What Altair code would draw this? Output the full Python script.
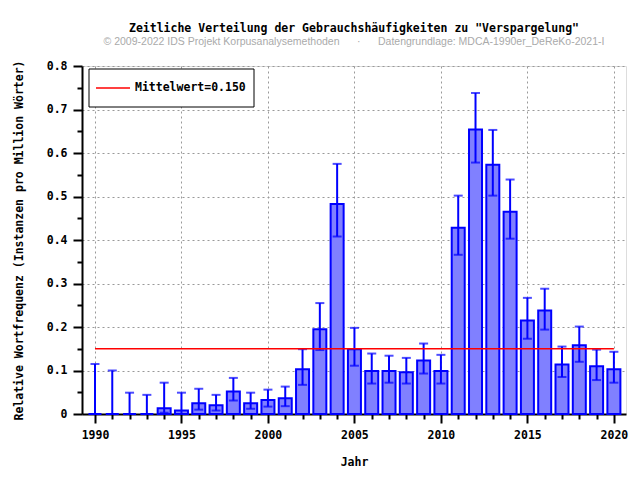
import altair as alt
import pandas as pd

years = [1990, 1991, 1992, 1993, 1994, 1995, 1996, 1997, 1998, 1999,
         2000, 2001, 2002, 2003, 2004, 2005, 2006, 2007, 2008, 2009,
         2010, 2011, 2012, 2013, 2014, 2015, 2016, 2017, 2018, 2019, 2020]
freq = [0.0, 0.0, 0.0, 0.0, 0.013, 0.008, 0.025, 0.020, 0.052, 0.025,
        0.032, 0.036, 0.103, 0.195, 0.483, 0.149, 0.099, 0.099, 0.096, 0.123,
        0.099, 0.428, 0.654, 0.573, 0.465, 0.215, 0.238, 0.114, 0.158, 0.110, 0.103]
err_hi = [0.115, 0.100, 0.049, 0.044, 0.072, 0.049, 0.058, 0.044, 0.083, 0.049,
          0.056, 0.063, 0.149, 0.255, 0.575, 0.198, 0.139, 0.134, 0.129, 0.162,
          0.136, 0.502, 0.738, 0.653, 0.539, 0.267, 0.288, 0.155, 0.201, 0.148, 0.143]
err_lo = [0.0, 0.0, 0.0, 0.0, 0.003, 0.0, 0.010, 0.008, 0.031, 0.012,
          0.017, 0.018, 0.067, 0.147, 0.408, 0.111, 0.070, 0.072, 0.070, 0.093,
          0.070, 0.366, 0.578, 0.502, 0.403, 0.173, 0.194, 0.085, 0.120, 0.078, 0.072]
mean_value = 0.150
mean_from, mean_to = 1990, 2020

NB = "\u00a0"
title_text = 'Zeitliche Verteilung der Gebrauchshäufigkeiten zu "Verspargelung"'
subtitle_text = ("© 2009-2022 IDS Projekt Korpusanalysemethoden" + NB * 6 + "·" + NB * 6
                 + "Datengrundlage: MDCA-1990er_DeReKo-2021-I")
x_title = "Jahr"
y_title = "Relative Wortfrequenz (Instanzen pro Million Wörter)"
x_ticks = years
y_ticks = [0, 0.05, 0.1, 0.15, 0.2, 0.25, 0.3, 0.35, 0.4, 0.45, 0.5, 0.55, 0.6, 0.65, 0.7, 0.75, 0.8]

df = pd.DataFrame({"year": years, "freq": freq, "hi": err_hi, "lo": err_lo})

MONO = "DejaVu Sans Mono"
FS = 11.5
xscale = alt.Scale(domain=[1989.25, 2020.7], nice=False, zero=False, padding=0)
yscale = alt.Scale(domain=[0, 0.8], nice=False, padding=0)

Y_MAJOR = "round(datum.value*100) % 10 === 0"
x_axis = alt.Axis(
    values=x_ticks, title=x_title, labelExpr="datum.value % 5 === 0 ? datum.label : ''",
    format="d", labelFont=MONO, labelFontWeight="bold", labelFontSize=FS, labelColor="black",
    titleFont=MONO, titleFontWeight="bold", titleFontSize=FS, titleColor="black", titlePadding=16,
    domainColor="black", domainWidth=2, tickColor="black", tickWidth=2,
    tickSize={"condition": {"test": "datum.value % 5 === 0", "value": 9}, "value": 5},
    labelPadding=6,
    grid=True, gridColor="#999999", gridDash=[2, 3], gridWidth=1,
    gridOpacity={"condition": {"test": "datum.value % 5 === 0", "value": 1}, "value": 0},
)
y_axis = alt.Axis(
    values=y_ticks, title=y_title,
    labelExpr=f"{Y_MAJOR} ? (datum.value === 0 ? '0' : format(datum.value, '.1f')) : ''",
    labelFont=MONO, labelFontWeight="bold", labelFontSize=FS, labelColor="black",
    titleFont=MONO, titleFontWeight="bold", titleFontSize=FS, titleColor="black", titlePadding=22,
    domainColor="black", domainWidth=2, tickColor="black", tickWidth=2,
    tickSize={"condition": {"test": Y_MAJOR, "value": 9}, "value": 5},
    labelPadding=6,
    grid=True, gridColor="#999999", gridDash=[2, 3], gridWidth=1,
    gridOpacity={"condition": {"test": Y_MAJOR, "value": 1}, "value": 0},
)

base = alt.Chart(df)
X = alt.X("year:Q", scale=xscale, axis=x_axis)

bars = base.mark_bar(size=13, fill="#8080FF", stroke="#0000FF", strokeWidth=2).encode(
    x=X,
    y=alt.Y("freq:Q", scale=yscale, axis=y_axis),
)

err_rule = base.mark_rule(color="#0000FF", strokeWidth=2).encode(
    x=X,
    y=alt.Y("lo:Q", scale=yscale, axis=y_axis),
    y2="hi:Q",
)
cap_hi = base.mark_tick(color="#0000FF", size=9, thickness=2, orient="horizontal").encode(
    x=X,
    y=alt.Y("hi:Q", scale=yscale, axis=y_axis),
)
cap_lo = base.mark_tick(color="#0000FF", size=9, thickness=2, orient="horizontal").encode(
    x=X,
    y=alt.Y("lo:Q", scale=yscale, axis=y_axis),
)

mean_df = pd.DataFrame({"m": [mean_value], "x0": [mean_from], "x1": [mean_to]})
mean_rule = alt.Chart(mean_df).mark_rule(color="red", strokeWidth=1.5).encode(
    x=alt.X("x0:Q", scale=xscale, axis=x_axis),
    x2="x1:Q",
    y=alt.Y("m:Q", scale=yscale, axis=y_axis),
)

one = pd.DataFrame({"a": [0]})
leg_box = alt.Chart(one).mark_rect(fill="white", stroke="black", strokeWidth=1).encode(
    x=alt.value(7), x2=alt.value(172), y=alt.value(3), y2=alt.value(41)
)
leg_line = alt.Chart(one).mark_rule(color="red", strokeWidth=1.5).encode(
    x=alt.value(14), x2=alt.value(48), y=alt.value(22)
)
leg_text = alt.Chart(one).mark_text(
    text=f"Mittelwert={mean_value:.3f}", font=MONO, fontWeight="bold", fontSize=FS,
    align="left", baseline="middle", color="black"
).encode(x=alt.value(53), y=alt.value(22))

chart = alt.layer(bars, err_rule, cap_hi, cap_lo, mean_rule, leg_box, leg_line, leg_text).properties(
    width=544, height=348,
    padding={"left": 74, "top": 58, "right": 6, "bottom": 56},
    autosize=alt.AutoSizeParams(type="none"),
    title=alt.Title(
        text=title_text, subtitle=subtitle_text, anchor="middle",
        font=MONO, fontWeight="bold", fontSize=FS, color="black",
        subtitleFont="Liberation Sans", subtitleFontSize=10.5, subtitleColor="#aaaaaa",
        subtitlePadding=3, offset=12,
    ),
).configure_view(stroke="black", strokeWidth=2).configure(background="white")

chart.save("out.html", embed_options={"renderer": "svg", "actions": False})
